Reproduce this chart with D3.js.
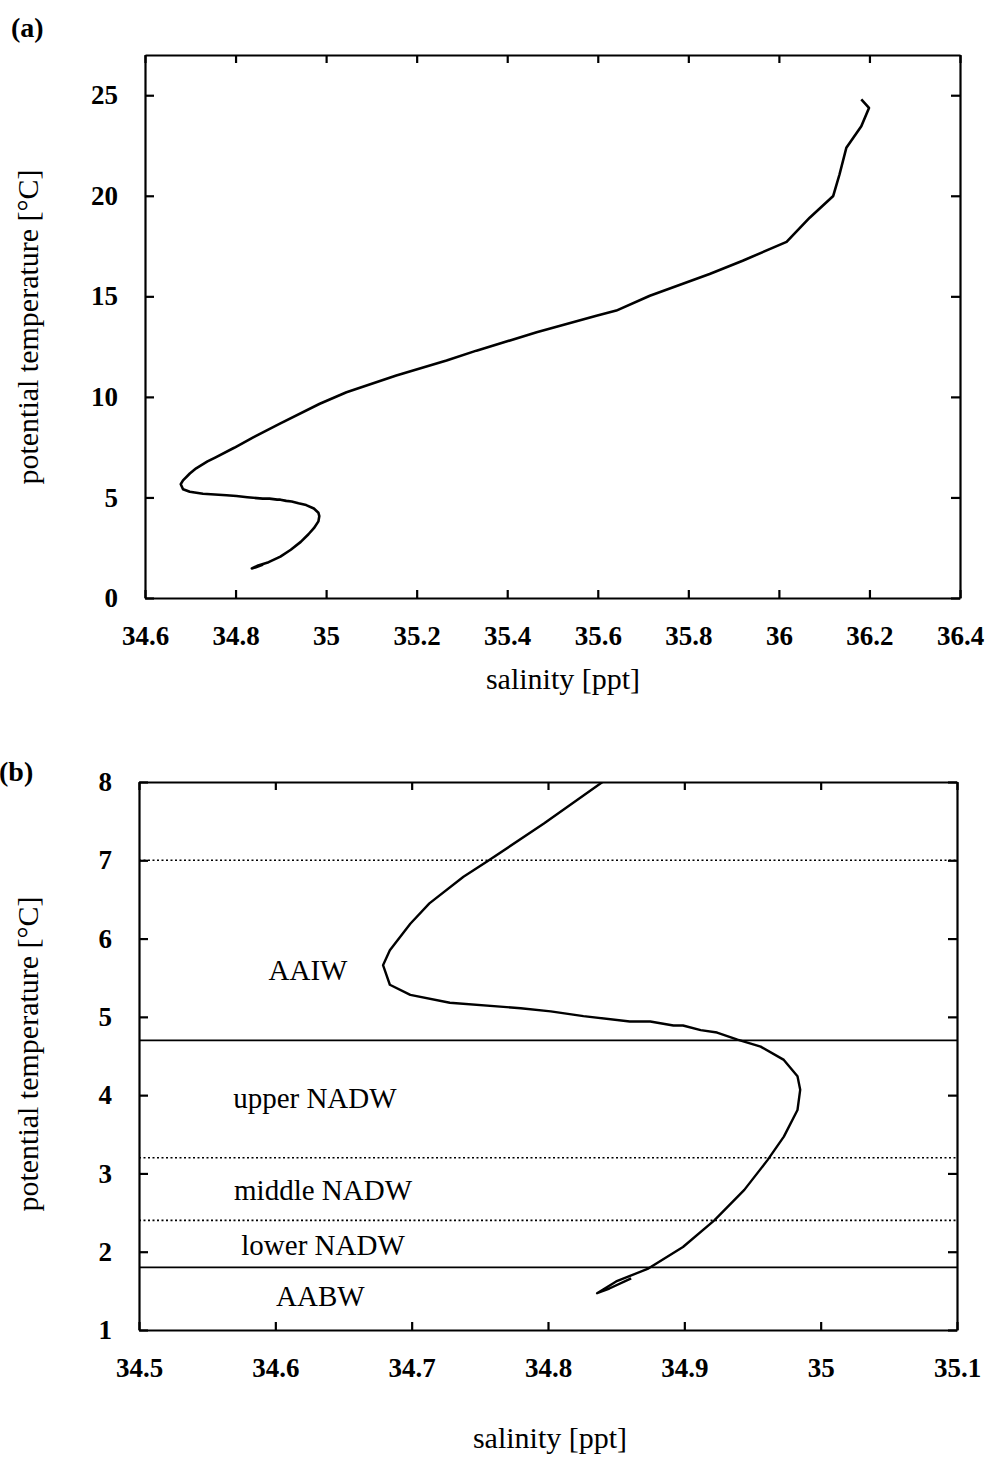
<!DOCTYPE html>
<html>
<head>
<meta charset="utf-8">
<script src="https://cdn.jsdelivr.net/npm/d3@7"></script>
<style>
  body { margin: 0; background: #fff; }
  svg { display: block; }
  text { font-family: "Liberation Serif", "Times New Roman", serif; fill: #000; }
  .tick text { font-weight: bold; font-size: 27px; }
  .tick line, .domain { stroke: #000; stroke-width: 2.2px; }
</style>
</head>
<body>
<script>
// theta-S profile (salinity ppt, potential temperature degC), surface -> bottom
const salinity = [36.182, 36.199, 36.182, 36.149, 36.134, 36.12, 36.068, 36.017, 35.92, 35.847,
  35.715, 35.641, 35.597, 35.465, 35.332, 35.266, 35.155, 35.045, 34.986, 34.898,
  34.840, 34.797, 34.755, 34.738, 34.713, 34.699, 34.684, 34.679, 34.684, 34.699,
  34.728, 34.780, 34.802, 34.826, 34.860, 34.875, 34.892, 34.899, 34.912, 34.924,
  34.939, 34.956, 34.973, 34.983, 34.985, 34.983, 34.973, 34.961, 34.944, 34.922,
  34.899, 34.873, 34.850, 34.836, 34.845, 34.861];
const temperature = [24.79, 24.37, 23.46, 22.39, 21.07, 19.99, 18.91, 17.71, 16.77, 16.11,
  15.03, 14.29, 14.04, 13.21, 12.30, 11.81, 11.06, 10.23, 9.66, 8.67,
  8.00, 7.47, 6.98, 6.79, 6.45, 6.19, 5.85, 5.66, 5.41, 5.28,
  5.18, 5.11, 5.07, 5.01, 4.94, 4.94, 4.89, 4.89, 4.83, 4.80,
  4.71, 4.62, 4.45, 4.24, 4.07, 3.81, 3.47, 3.17, 2.79, 2.40,
  2.06, 1.78, 1.62, 1.47, 1.53, 1.66];

// ticks
const xTicksA = [34.6, 34.8, 35, 35.2, 35.4, 35.6, 35.8, 36, 36.2, 36.4];
const yTicksA = [0, 5, 10, 15, 20, 25];
const xTicksB = [34.5, 34.6, 34.7, 34.8, 34.9, 35, 35.1];
const yTicksB = [1, 2, 3, 4, 5, 6, 7, 8];

// water mass boundaries (panel b)
const solidBounds = [4.7, 1.8];
const dottedBounds = [7, 3.2, 2.4];
const massNames = ['AAIW', 'upper NADW', 'middle NADW', 'lower NADW', 'AABW'];
const massSal = [34.624, 34.629, 34.635, 34.635, 34.633];
const massTemp = [5.6, 3.96, 2.79, 2.09, 1.43];

const profile = salinity.map((s, i) => ({ s: s, t: temperature[i] }));

let svg = d3.select('body').append('svg')
  .attr('width', 991)
  .attr('height', 1460);

svg.append('rect').attr('width', 991).attr('height', 1460).attr('fill', '#fff');

// draws framed panel with inward ticks on all 4 sides
function panel(id, x, y, xTicks, yTicks) {
  let g = svg.append('g').attr('id', id);
  let [x0, x1] = x.range();
  let [y0, y1] = y.range();

  g.append('g')
    .attr('transform', `translate(0, ${y0})`)
    .call(d3.axisBottom(x).tickValues(xTicks).tickFormat(d => String(d))
      .tickSizeInner(-8).tickSizeOuter(0).tickPadding(28));
  g.append('g')
    .attr('transform', `translate(0, ${y1})`)
    .call(d3.axisTop(x).tickValues(xTicks).tickFormat('')
      .tickSizeInner(-8).tickSizeOuter(0));
  g.append('g')
    .attr('transform', `translate(${x0}, 0)`)
    .call(d3.axisLeft(y).tickValues(yTicks).tickFormat(d => String(d))
      .tickSizeInner(-9).tickSizeOuter(0).tickPadding(27));
  g.append('g')
    .attr('transform', `translate(${x1}, 0)`)
    .call(d3.axisRight(y).tickValues(yTicks).tickFormat('')
      .tickSizeInner(-9).tickSizeOuter(0));
  return g;
}

function ytitle(g, cy) {
  g.append('text')
    .attr('transform', `translate(38, ${cy}) rotate(-90)`)
    .attr('text-anchor', 'middle')
    .style('font-size', '30px')
    .text('potential temperature [°C]');
}

const line = (x, y) => d3.line().x(d => x(d.s)).y(d => y(d.t));

//panel (a)
let xA = d3.scaleLinear().domain([34.6, 36.4]).range([145, 960]);
let yA = d3.scaleLinear().domain([0, 27]).range([598, 55]);
let gA = panel('panel-a', xA, yA, xTicksA, yTicksA);

gA.append('path')
  .datum(profile)
  .attr('d', line(xA, yA))
  .attr('fill', 'none')
  .attr('stroke', '#000')
  .attr('stroke-width', 2.6)
  .attr('stroke-linejoin', 'round');

gA.append('text').attr('x', 11).attr('y', 37)
  .style('font-size', '28px').style('font-weight', 'bold').text('(a)');
ytitle(gA, 327);
gA.append('text').attr('x', 563).attr('y', 689).attr('text-anchor', 'middle')
  .style('font-size', '30px').text('salinity [ppt]');

//panel (b)
let xB = d3.scaleLinear().domain([34.5, 35.1]).range([139, 957]);
let yB = d3.scaleLinear().domain([1, 8]).range([1330, 782]);

svg.append('clipPath').attr('id', 'clip-b')
  .append('rect').attr('x', 139).attr('y', 782).attr('width', 818).attr('height', 548);

let gB = panel('panel-b', xB, yB, xTicksB, yTicksB);

gB.selectAll('line.solid')
  .data(solidBounds)
  .enter()
  .append('line')
  .attr('class', 'solid')
  .attr('x1', xB(34.5)).attr('x2', xB(35.1))
  .attr('y1', d => yB(d)).attr('y2', d => yB(d))
  .attr('stroke', '#000')
  .attr('stroke-width', 1.6);

gB.selectAll('line.dotted')
  .data(dottedBounds)
  .enter()
  .append('line')
  .attr('class', 'dotted')
  .attr('x1', xB(34.5)).attr('x2', xB(35.1))
  .attr('y1', d => yB(d)).attr('y2', d => yB(d))
  .attr('stroke', '#000')
  .attr('stroke-width', 1.6)
  .attr('stroke-dasharray', '2,2.5');

gB.append('path')
  .datum(profile)
  .attr('clip-path', 'url(#clip-b)')
  .attr('d', line(xB, yB))
  .attr('fill', 'none')
  .attr('stroke', '#000')
  .attr('stroke-width', 2.4)
  .attr('stroke-linejoin', 'round');

gB.selectAll('text.mass')
  .data(massNames)
  .enter()
  .append('text')
  .attr('class', 'mass')
  .attr('x', (d, i) => xB(massSal[i]))
  .attr('y', (d, i) => yB(massTemp[i]))
  .attr('dy', '0.35em')
  .attr('text-anchor', 'middle')
  .style('font-size', '29px')
  .text(d => d);

gB.append('text').attr('x', -1).attr('y', 781)
  .style('font-size', '28px').style('font-weight', 'bold').text('(b)');
ytitle(gB, 1054);
gB.append('text').attr('x', 550).attr('y', 1448).attr('text-anchor', 'middle')
  .style('font-size', '30px').text('salinity [ppt]');
</script>
</body>
</html>
